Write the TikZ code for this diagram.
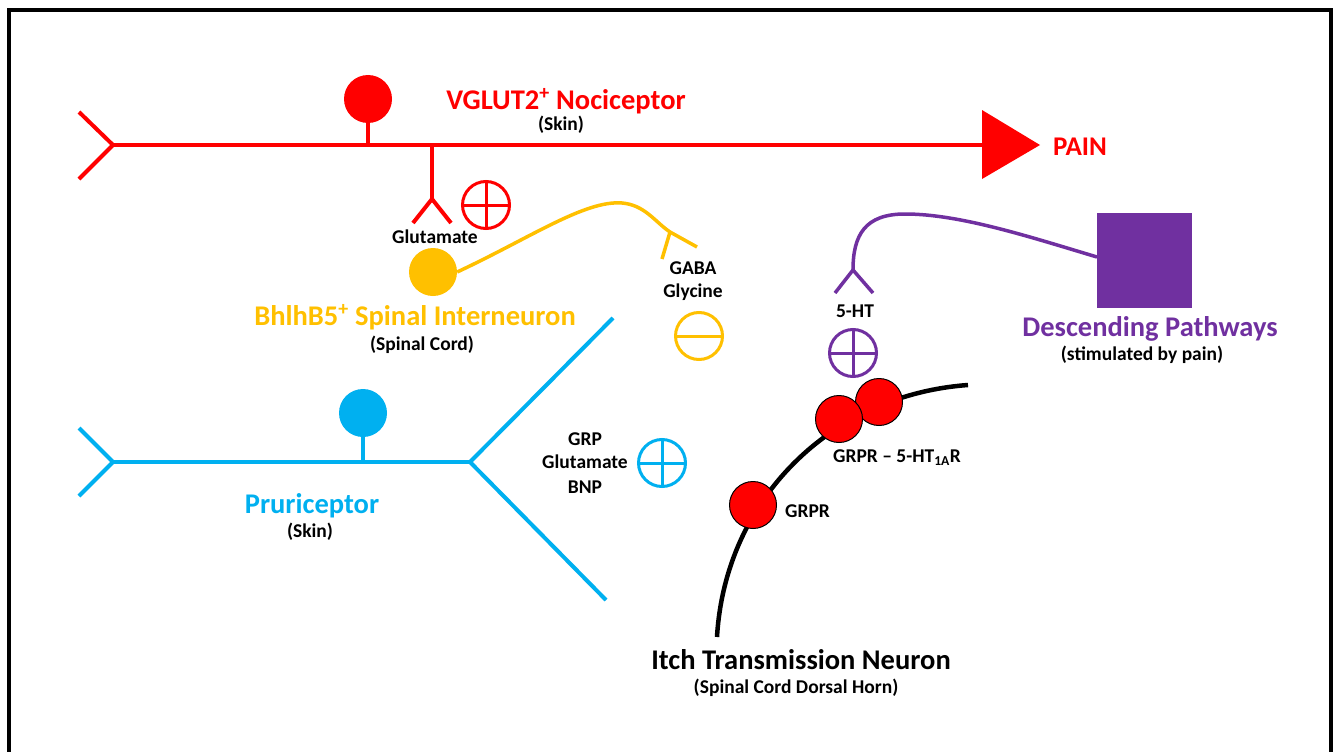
\documentclass[tikz,border=0pt]{standalone}
\usepackage{fontspec}
\setmainfont{Carlito}
\definecolor{nred}{HTML}{FF0000}
\definecolor{nyel}{HTML}{FFC000}
\definecolor{ncyan}{HTML}{00B0F0}
\definecolor{npur}{HTML}{7030A0}
\begin{document}
\begin{tikzpicture}[x=1pt,y=-1pt,
  title/.style={font=\fontsize{28.5}{30}\selectfont\bfseries, inner sep=0, anchor=base},
  sub/.style={font=\fontsize{19.5}{21}\selectfont\bfseries, inner sep=0, text=black, anchor=base},
  soma/.style={circle, inner sep=0, minimum size=48, fill=#1},
  sign/.style={circle, draw=#1, line width=3, inner sep=0, minimum size=47, outer sep=0},
  signline/.style={draw=#1, line width=3},
  rec/.style={circle, draw=black, line width=1, fill=nred, minimum size=47, inner sep=0},
  axon/.style={draw=#1, line width=4, line join=miter},
]
\useasboundingbox (0,0) rectangle (1333,752);
\clip (0,0) rectangle (1333,752);
\fill[white] (0,0) rectangle (1333,752);
\draw[line width=4] (9,10) rectangle (1331,800);

% ---------- red nociceptor ----------
\coordinate (rt1) at (79,112);
\coordinate (rt2) at (79,179);
\coordinate (rfork) at (113,145);
\coordinate (rend) at (984,145);
\coordinate (rstem) at (368,145);
\coordinate (rbr) at (432,145);
\coordinate (rbf) at (432,199);
\coordinate (rb1) at (413,223);
\coordinate (rb2) at (451,223);
\node[soma=nred] (rsoma) at (368,99) {};
\draw[axon=nred] (rt1) -- (rfork) -- (rt2);
\draw[axon=nred] (rfork) -- (rend);
\draw[axon=nred] (rsoma) -- (rstem);
\draw[axon=nred] (rbr) -- (rbf);
\draw[axon=nred] (rb1) -- (rbf) -- (rb2);
\coordinate (tri1) at (982,110);
\coordinate (tri2) at (1040,145);
\coordinate (tri3) at (982,179);
\fill[nred] (tri1) -- (tri2) -- (tri3) -- cycle;
\node[sign=nred] (rplus) at (486,205) {};
\draw[signline=nred] (rplus.north) -- (rplus.south) (rplus.west) -- (rplus.east);
\node[title, text=nred] (rtitle) at (566,109) {VGLUT2\textsuperscript{+} Nociceptor};
\node[sub] (rskin) at (561,130) {(Skin)};
\node[title, text=nred, font=\fontsize{27}{29}\selectfont\bfseries] (pain) at (1080,155) {PAIN};
\node[sub] (glu1) at (435,243) {Glutamate};

% ---------- yellow interneuron ----------
\coordinate (yj) at (670,232);
\coordinate (ye) at (697,247);
\coordinate (yb) at (662,259);
\node[soma=nyel] (ysoma) at (433,272) {};
\draw[nyel, line width=3.5] (ysoma.east) .. controls (530,238) and (585,200) .. (622,203)
  .. controls (645,205) and (655,222) .. (yj) -- (ye);
\draw[nyel, line width=3.5] (yj) -- (yb);
\node[sign=nyel] (yminus) at (699,336) {};
\draw[signline=nyel] (yminus.west) -- (yminus.east);
\node[title, text=nyel] (ytitle) at (415,325) {BhlhB5\textsuperscript{+} Spinal Interneuron};
\node[sub] (ycord) at (422,350) {(Spinal Cord)};
\node[sub] (gaba) at (693,274) {GABA};
\node[sub] (gly) at (693,297) {Glycine};

% ---------- cyan pruriceptor ----------
\coordinate (ct1) at (79,428);
\coordinate (ct2) at (79,496);
\coordinate (cfork) at (113,462);
\coordinate (cstem) at (363,462);
\coordinate (cbr) at (470,462);
\coordinate (cu) at (613,318);
\coordinate (cd) at (606,600);
\node[soma=ncyan] (csoma) at (363,413) {};
\draw[axon=ncyan] (ct1) -- (cfork) -- (ct2);
\draw[axon=ncyan] (cfork) -- (cbr);
\draw[axon=ncyan] (csoma) -- (cstem);
\draw[axon=ncyan] (cu) -- (cbr) -- (cd);
\node[sign=ncyan] (cplus) at (662,463) {};
\draw[signline=ncyan] (cplus.north) -- (cplus.south) (cplus.west) -- (cplus.east);
\node[sub] (grp) at (585,445) {GRP};
\node[sub] (glu2) at (585,468) {Glutamate};
\node[sub] (bnp) at (585,493) {BNP};
\node[title, text=ncyan] (ctitle) at (312,513) {Pruriceptor};
\node[sub] (cskin) at (310,537) {(Skin)};

% ---------- purple descending ----------
\node[fill=npur, minimum size=95, inner sep=0] (desc) at (1144.5,260.5) {};
\coordinate (pstart) at (1097,257);
\coordinate (pj) at (853,270);
\coordinate (p1) at (835,293);
\coordinate (p2) at (873,293);
\draw[npur, line width=3.5] (pstart) .. controls (1030,237) and (960,214) .. (905,214)
  .. controls (865,214) and (853,235) .. (pj);
\draw[npur, line width=3.5] (p1) -- (pj) -- (p2);
\node[sign=npur] (pplus) at (853,353) {};
\draw[signline=npur] (pplus.north) -- (pplus.south) (pplus.west) -- (pplus.east);
\node[sub] (ht) at (855,317) {5-HT};
\node[title, text=npur] (ptitle) at (1150,336) {Descending Pathways};
\node[sub] (pstim) at (1142,360) {(stimulated by pain)};

% ---------- itch transmission neuron ----------
\coordinate (nb) at (717,637);
\coordinate (nt) at (968,385);
\draw[line width=4.5] (nb) .. controls (725,500) and (830,395) .. (nt);
\node[rec] (r3) at (879,402) {};
\node[rec] (r2) at (839,419) {};
\node[rec] (r1) at (753,505) {};
\node[sub, anchor=base west] (grpr) at (785,517) {GRPR};
\node[sub, anchor=base west] (grpr2) at (833,462) {GRPR -- 5-HT\textsubscript{1A}R};
\node[title, text=black] (ititle) at (801,669) {Itch Transmission Neuron};
\node[sub] (idorsal) at (796,693) {(Spinal Cord Dorsal Horn)};
\end{tikzpicture}
\end{document}
